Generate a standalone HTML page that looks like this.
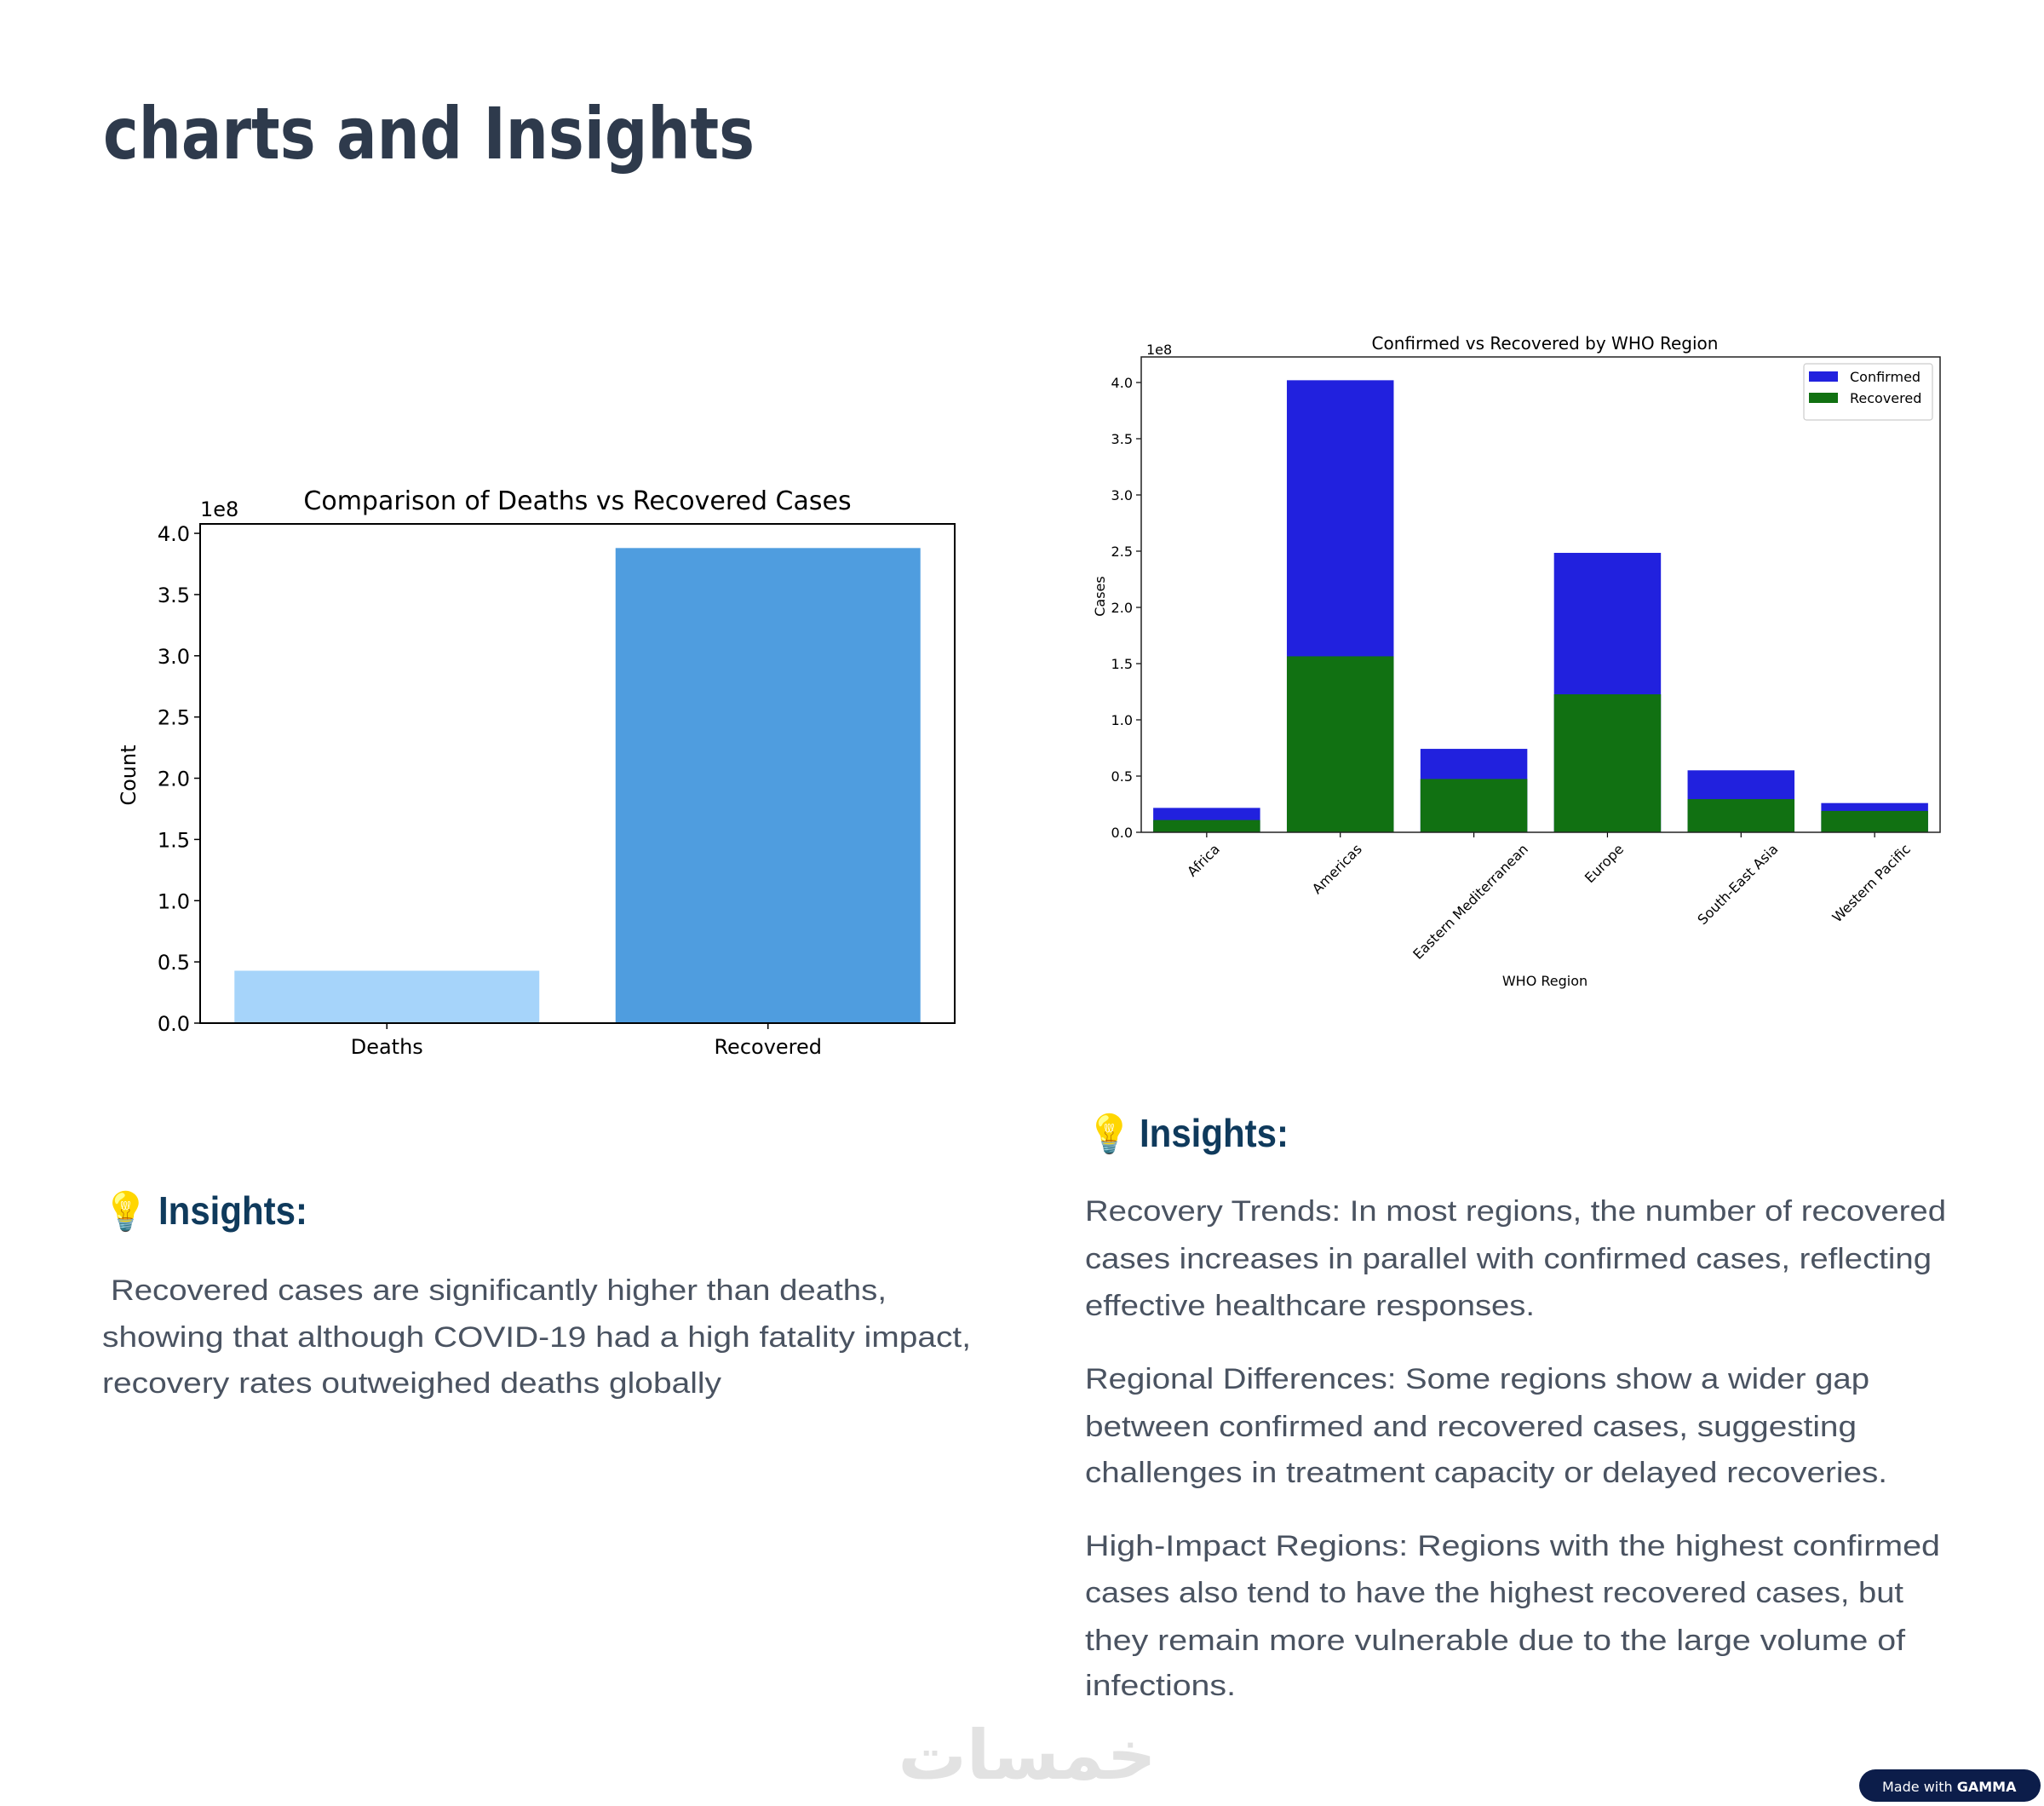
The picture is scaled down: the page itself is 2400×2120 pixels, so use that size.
<!DOCTYPE html>
<html><head><meta charset="utf-8"><style>
html,body{margin:0;padding:0;background:#fff;}
svg{display:block;}
text{font-family:"DejaVu Sans","Liberation Sans",sans-serif;}
.body{font-family:"Liberation Sans",sans-serif;font-size:34px;fill:#4a5361;}
.head{font-family:"Liberation Sans",sans-serif;font-weight:bold;fill:#0f3a5c;}
</style></head><body>
<svg id="page" width="2400" height="2120" viewBox="0 0 2400 2120" xmlns="http://www.w3.org/2000/svg">
<text x="121" y="186" font-family="Liberation Sans" font-weight="bold" font-size="84" fill="#2e3a4c" textLength="765" lengthAdjust="spacingAndGlyphs">charts and Insights</text>

<g id="left-chart"></g>
<g id="right-chart"></g>

<g>
<text x="120" y="1437" font-size="44">💡</text>
<text class="head" x="186" y="1437" font-size="46" textLength="175" lengthAdjust="spacingAndGlyphs">Insights:</text>
<text class="body" x="130" y="1526" textLength="911" lengthAdjust="spacingAndGlyphs">Recovered cases are significantly higher than deaths,</text>
<text class="body" x="120" y="1581" textLength="1020" lengthAdjust="spacingAndGlyphs">showing that although COVID-19 had a high fatality impact,</text>
<text class="body" x="120" y="1635" textLength="727" lengthAdjust="spacingAndGlyphs">recovery rates outweighed deaths globally</text>
</g>

<g>
<text x="1275" y="1346" font-size="44">💡</text>
<text class="head" x="1338" y="1346" font-size="46" textLength="175" lengthAdjust="spacingAndGlyphs">Insights:</text>
<text class="body" x="1274" y="1433" textLength="1011" lengthAdjust="spacingAndGlyphs">Recovery Trends: In most regions, the number of recovered</text>
<text class="body" x="1274" y="1489" textLength="994" lengthAdjust="spacingAndGlyphs">cases increases in parallel with confirmed cases, reflecting</text>
<text class="body" x="1274" y="1544" textLength="528" lengthAdjust="spacingAndGlyphs">effective healthcare responses.</text>
<text class="body" x="1274" y="1630" textLength="921" lengthAdjust="spacingAndGlyphs">Regional Differences: Some regions show a wider gap</text>
<text class="body" x="1274" y="1686" textLength="906" lengthAdjust="spacingAndGlyphs">between confirmed and recovered cases, suggesting</text>
<text class="body" x="1274" y="1740" textLength="942" lengthAdjust="spacingAndGlyphs">challenges in treatment capacity or delayed recoveries.</text>
<text class="body" x="1274" y="1826" textLength="1004" lengthAdjust="spacingAndGlyphs">High-Impact Regions: Regions with the highest confirmed</text>
<text class="body" x="1274" y="1881" textLength="961" lengthAdjust="spacingAndGlyphs">cases also tend to have the highest recovered cases, but</text>
<text class="body" x="1274" y="1937" textLength="963" lengthAdjust="spacingAndGlyphs">they remain more vulnerable due to the large volume of</text>
<text class="body" x="1274" y="1990" textLength="177" lengthAdjust="spacingAndGlyphs">infections.</text>
</g>

<text x="1206" y="2088" text-anchor="middle" font-family="Noto Sans CJK SC, DejaVu Sans, sans-serif" font-size="80" fill="#e2e2e2" font-weight="bold">خمسات</text>
<g>
<rect x="2183" y="2077" width="213" height="38" rx="19" fill="#0c1d4a"/>
<text x="2210" y="2103" font-family="Liberation Sans" font-size="16" fill="#fff">Made with <tspan font-weight="bold">GAMMA</tspan></text>
</g>
</svg>
<script>
// ---- Left chart data ----
var leftCategories = ["Deaths", "Recovered"];
var leftValues = [0.428, 3.88]; // x 1e8
var leftTicks = [0, 0.5, 1.0, 1.5, 2.0, 2.5, 3.0, 3.5, 4.0];
// ---- Right chart data ----
var regions = ["Africa", "Americas", "Eastern Mediterranean", "Europe", "South-East Asia", "Western Pacific"];
var confirmedValues = [0.217, 4.02, 0.742, 2.485, 0.551, 0.26]; // x 1e8
var recoveredValues = [0.109, 1.565, 0.474, 1.227, 0.295, 0.19]; // x 1e8
var rightTicks = [0, 0.5, 1.0, 1.5, 2.0, 2.5, 3.0, 3.5, 4.0];

var NS = "http://www.w3.org/2000/svg";
function mk(parent, tag, attrs, txt) {
  var e = document.createElementNS(NS, tag);
  for (var k in attrs) e.setAttribute(k, attrs[k]);
  if (txt !== undefined) e.textContent = txt;
  parent.appendChild(e);
  return e;
}

// Left chart
(function () {
  var g = document.getElementById("left-chart");
  var L = 235, R = 1121, T = 615, B = 1201, ymax = 4.077;
  function y(v) { return B - v / ymax * (B - T); }
  var n = leftCategories.length;
  var step = (R - L) / (n - 1 + 0.98);
  function xc(i) { return L + step * 0.49 + i * step; }
  var bw = step * 0.8;
  var colors = ["#a6d4fa", "#4f9ddf"];
  leftValues.forEach(function (v, i) {
    var r = mk(g, "rect", { x: xc(i) - bw / 2, y: y(v), width: bw, height: B - y(v), fill: colors[i] });
    
    
    mk(g, "line", { x1: xc(i), x2: xc(i), y1: B, y2: B + 7, stroke: "#000", "stroke-width": 1.5 });
    var t = mk(g, "text", { x: xc(i), y: B + 36, "text-anchor": "middle", "font-size": 24 }, leftCategories[i]);
    
    
  });
  leftTicks.forEach(function (v) {
    mk(g, "line", { x1: L - 7, x2: L, y1: y(v), y2: y(v), stroke: "#000", "stroke-width": 1.5 });
    var t = mk(g, "text", { x: L - 12, y: y(v) + 9, "text-anchor": "end", "font-size": 24 }, v.toFixed(1));
    
    
  });
  var f = mk(g, "rect", { x: L, y: T, width: R - L, height: B - T, fill: "none", stroke: "#000", "stroke-width": 2 });
  
  
  var o = mk(g, "text", { x: 235, y: 606, "font-size": 24 }, "1e8");
  
  
  var tt = mk(g, "text", { x: 678, y: 598, "text-anchor": "middle", "font-size": 30 }, "Comparison of Deaths vs Recovered Cases");
  
  
  var yl = mk(g, "text", { x: 0, y: 0, "text-anchor": "middle", "font-size": 24, transform: "translate(159,910) rotate(-90)" }, "Count");
  
  
})();

// Right chart
(function () {
  var g = document.getElementById("right-chart");
  var L = 1340, R = 2278, T = 419, B = 977, per = 132;
  function y(v) { return B - v * per; }
  var n = regions.length;
  var step = (R - L) / (n - 1 + 0.98);
  function xc(i) { return L + step * 0.49 + i * step; }
  var bw = step * 0.8;
  regions.forEach(function (name, i) {
    var c = mk(g, "rect", { x: xc(i) - bw / 2, y: y(confirmedValues[i]), width: bw, height: B - y(confirmedValues[i]), fill: "#2121de" });
    
    
    var r = mk(g, "rect", { x: xc(i) - bw / 2, y: y(recoveredValues[i]), width: bw, height: B - y(recoveredValues[i]), fill: "#117112" });
    
    
    mk(g, "line", { x1: xc(i), x2: xc(i), y1: B, y2: B + 6, stroke: "#000", "stroke-width": 1.2 });
    var t = mk(g, "text", { x: 0, y: 0, "text-anchor": "middle", "font-size": 16 }, name);
    
    
    var len = t.getComputedTextLength ? t.getComputedTextLength() : name.length * 9;
    var h = (len + 16) * 0.7071;
    t.setAttribute("transform", "translate(" + (xc(i)) + "," + (B + 10 + h / 2 + 5) + ") rotate(-45)");
  });
  rightTicks.forEach(function (v) {
    mk(g, "line", { x1: L - 6, x2: L, y1: y(v), y2: y(v), stroke: "#000", "stroke-width": 1.2 });
    var t = mk(g, "text", { x: L - 10, y: y(v) + 6, "text-anchor": "end", "font-size": 16 }, v.toFixed(1));
    
    
  });
  var f = mk(g, "rect", { x: L, y: T, width: R - L, height: B - T, fill: "none", stroke: "#222", "stroke-width": 1.5 });
  
  
  var o = mk(g, "text", { x: 1346, y: 416, "font-size": 16 }, "1e8");
  
  
  var tt = mk(g, "text", { x: 1814, y: 410, "text-anchor": "middle", "font-size": 20 }, "Confirmed vs Recovered by WHO Region");
  
  
  var yl = mk(g, "text", { x: 0, y: 0, "text-anchor": "middle", "font-size": 16, transform: "translate(1297,700) rotate(-90)" }, "Cases");
  
  
  var xl = mk(g, "text", { x: 1814, y: 1157, "text-anchor": "middle", "font-size": 16 }, "WHO Region");
  
  
  var lg = mk(g, "g", {});
  
  
  mk(lg, "rect", { x: 2118, y: 427, width: 151, height: 66, rx: 3, fill: "#fff", stroke: "#ccc", "stroke-width": 1.2 });
  mk(lg, "rect", { x: 2124, y: 436, width: 34, height: 12, fill: "#2121de" });
  mk(lg, "rect", { x: 2124, y: 461, width: 34, height: 12, fill: "#117112" });
  var e1 = mk(lg, "text", { x: 2172, y: 448, "font-size": 16 }, "Confirmed");
  
  
  var e2 = mk(lg, "text", { x: 2172, y: 473, "font-size": 16 }, "Recovered");
  
  
})();
</script>
</body></html>
